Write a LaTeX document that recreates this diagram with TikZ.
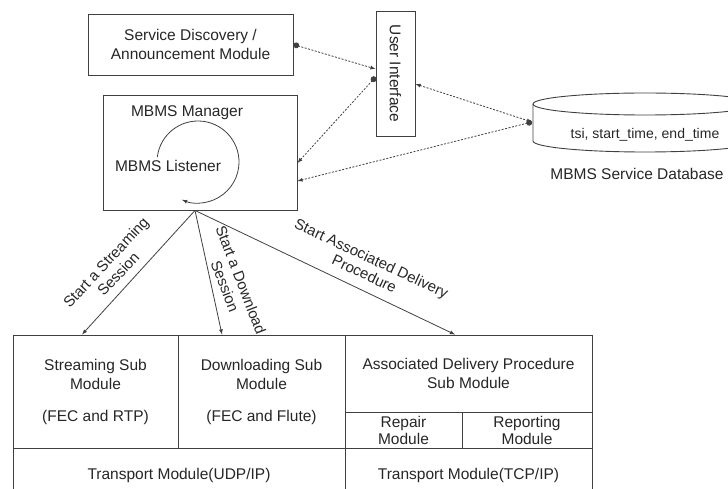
\documentclass[tikz,border=0pt]{standalone}
\usepackage{fontspec}
\setmainfont{Liberation Sans}
\usetikzlibrary{arrows,positioning,calc}

\tikzset{
  box/.style={draw=black!75, line width=0.9pt, align=center, inner sep=0pt, text=black!85},
  frame/.style={draw=black!75, line width=0.9pt},
  link/.style={draw=black!75, line width=0.8pt, dash pattern=on 2pt off 1.5pt},
  flow/.style={draw=black!75, line width=0.8pt, -latex},
  lbl/.style={align=center, text=black!85, font=\fontsize{15}{17}\selectfont},
}

\begin{document}
\begin{tikzpicture}[x=1pt,y=-1pt,font=\fontsize{15.5}{19}\selectfont]
	\useasboundingbox (0,0) rectangle (728,489);
	% upper part
	\node[box,minimum width=205pt,minimum height=61pt] (sdam) at (190.5,44.5) {Service Discovery /\\Announcement Module};
	\node[box,minimum width=194pt,minimum height=115pt] (manager) at (200,152.5) {};
	\node[text=black!85] (mgrtext) at (187,113) {MBMS Manager};
	\node[text=black!85] (listener) at (168,166) {MBMS Listener};
	\draw[frame,line width=0.8pt,-latex] (198,162) ++(187:41) arc (187:473:41);
	\node[box,minimum width=39pt,minimum height=125pt] (ui) at (395.5,73.5) {};
	\node[rotate=-90,text=black!85] (uitext) at (ui) {User Interface};
	% database
	\draw[frame] (645,104) ellipse (112 and 11);
	\draw[frame] (533,104) -- (533,141) arc (180:0:112 and 11) -- (757,104);
	\coordinate (db) at (532,122);
	\node[text=black!85,font=\fontsize{14}{16}\selectfont] (dbtext) at (645,135) {tsi, start\_time, end\_time};
	\node[text=black!85] (dbname) at (637,174) {MBMS Service Database};
	% dotted links
	\draw[link,*-latex] (sdam.east) -- ([yshift=4.5pt]ui.west);
	\draw[link,*-latex] ([yshift=-3.5pt]ui.west) -- ([yshift=-10.5pt]manager.east);
	\draw[link,latex-latex] ([yshift=-10.5pt]ui.east) -- (db);
	\draw[link,*-latex] (db) -- ([yshift=-28.5pt]manager.east);
	% sub modules
	\node[box,minimum width=165pt,minimum height=113.5pt] (stream) at (95.5,391.75) {Streaming Sub\\Module\\[13pt](FEC and RTP)};
	\node[box,minimum width=167pt,minimum height=113.5pt] (down) at (261.5,391.75) {Downloading Sub\\Module\\[13pt](FEC and Flute)};
	\node[box,minimum width=247pt,minimum height=77pt] (assoc) at (468.5,373.5) {Associated Delivery Procedure\\Sub Module};
	\node[box,minimum width=117pt,minimum height=36.5pt,font=\fontsize{15.5}{17}\selectfont] (repair) at (403.5,430.25) {Repair\\Module};
	\node[box,minimum width=130pt,minimum height=36.5pt,font=\fontsize{15.5}{17}\selectfont] (report) at (527,430.25) {Reporting\\Module};
	\node[box,minimum width=332pt,minimum height=53pt] (udp) at (179,475) {Transport Module(UDP/IP)};
	\node[box,minimum width=247pt,minimum height=53pt] (tcp) at (468.5,475) {Transport Module(TCP/IP)};
	% session arrows
	\coordinate (m) at ([xshift=-5pt]manager.south);
	\draw[flow] (m) -- ([xshift=-13.5pt]stream.north);
	\draw[flow] (m) -- ([xshift=-39.5pt]down.north);
	\draw[flow] (m) -- ([xshift=-13.5pt]assoc.north);
	\node[lbl,rotate=47] (lblstream) at (112,268) {Start a Streaming\\Session};
	\node[lbl,rotate=-69] (lbldown) at (233,283) {Start a Download\\Session};
	\node[lbl,rotate=-25] (lblassoc) at (368,266) {Start Associated Delivery\\Procedure};
\end{tikzpicture}
\end{document}
